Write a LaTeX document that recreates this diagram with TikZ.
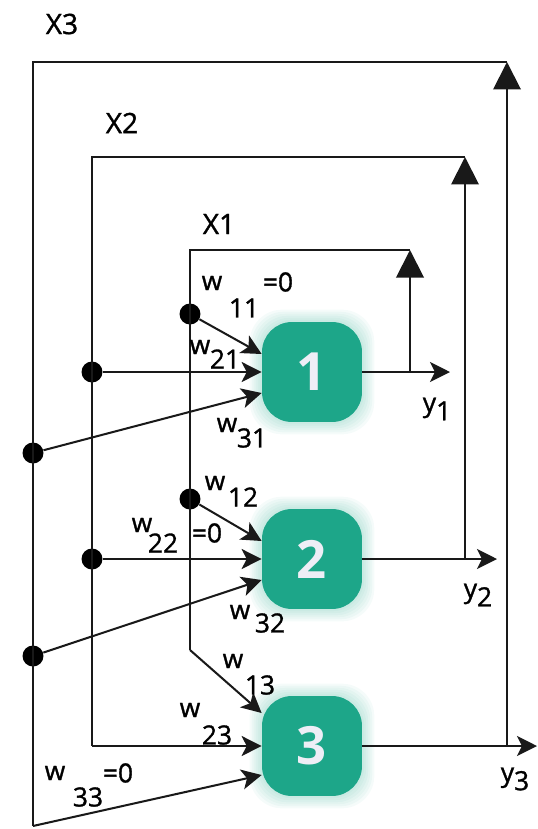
\documentclass[tikz,border=0pt]{standalone}
\usepackage{fontspec}
\setmainfont{Open Sans}
\newfontfamily\labelfont{Open Sans}[FakeBold=1.2]
\usetikzlibrary{positioning,arrows.meta,calc,backgrounds}
\definecolor{Unit}{RGB}{29,166,137}
\definecolor{UnitText}{RGB}{238,238,246}
\definecolor{Wire}{RGB}{25,25,25}

\begin{document}
\begin{tikzpicture}[x=0.02cm,y=-0.02cm,
    unit/.style={rectangle,rounded corners=0.6cm,fill=Unit,text=UnitText,minimum width=2cm,minimum height=2cm,font=\fontsize{30}{34}\selectfont\bfseries},
    tap/.style={circle,fill=black,inner sep=0pt,minimum size=0.42cm},
    lbl/.style={inner sep=0pt,font=\labelfont\fontsize{15}{18}\selectfont},
    xlbl/.style={inner sep=0pt,font=\labelfont\fontsize{16}{19}\selectfont},
    wire/.style={draw=Wire,line width=1.15pt},
    arrow/.style={wire,-{Stealth[length=0.4cm,width=0.4cm,inset=0.1cm]}},
    back/.style={wire,-{Triangle[length=0.55cm,width=0.55cm]}}
]
\useasboundingbox (0,0) rectangle (538,829);

% Neurons
\node[unit] (unit1) at (312,372) {1};
\node[unit] (unit2) at (312,559) {2};
\node[unit] (unit3) at (312,746) {3};

% soft halo round the neurons
\begin{pgfonlayer}{background}
\foreach \u in {unit1,unit2,unit3}
  \foreach \g in {2,4,...,12}
    \fill[Unit,opacity=0.045,rounded corners=0.65cm] ($(\u.south west)+(-\g,\g)$) rectangle ($(\u.north east)+(\g,-\g)$);
\end{pgfonlayer}

% Taps on the fed-back lines
\node[tap] (tap11) at (190,314) {};
\node[tap] (tap12) at (190,499) {};
\node[tap] (tap21) at (92,372) {};
\node[tap] (tap22) at (92,559) {};
\node[tap] (tap31) at (33,453) {};
\node[tap] (tap32) at (33,656) {};

% Corners of the feedback loops
\coordinate (out1) at (450,372);
\coordinate (out2) at (497,559);
\coordinate (out3) at (537,746);
\coordinate (fb1) at (410,372);
\coordinate (fb2) at (465,559);
\coordinate (fb3) at (507,746);
\coordinate (top1) at (410,250);
\coordinate (top2) at (465,157);
\coordinate (top3) at (507,62);
\coordinate (left1) at (190,250);
\coordinate (left2) at (92,157);
\coordinate (left3) at (33,62);
\coordinate (bend1) at (190,650);
\coordinate (bend2) at (tap22 |- unit3.west);
\coordinate (bend3) at (33,826);

% Outputs
\draw[arrow] (unit1) -- (out1);
\draw[arrow] (unit2) -- (out2);
\draw[arrow] (unit3) -- (out3);

% Feedback loops
\draw[back] (fb1) -- (top1);
\draw[back] (fb2) -- (top2);
\draw[back] (fb3) -- (top3);
\draw[wire] (top1) -- (left1) -- (bend1);
\draw[wire] (top2) -- (left2) -- (bend2);
\draw[wire] (top3) -- (left3) -- (bend3);

% Weighted inputs
\draw[arrow] (tap11) -- ($(unit1.west)+(0,-18)$);
\draw[arrow] (tap21) -- (unit1.west);
\draw[arrow] (tap31) -- ($(unit1.west)+(0,21)$);
\draw[arrow] (tap12) -- ($(unit2.west)+(0,-18)$);
\draw[arrow] (tap22) -- (unit2.west);
\draw[arrow] (tap32) -- ($(unit2.west)+(0,21)$);
\draw[arrow] (bend1) -- ($(unit3.west)+(0,-33)$);
\draw[arrow] (bend2) -- (unit3.west);
\draw[arrow] (bend3) -- ($(unit3.west)+(0,29)$);

% Line names
\node[xlbl] (lblX3) at (62,24) {X3};
\node[xlbl] (lblX2) at (122,123) {X2};
\node[xlbl] (lblX1) at (219,224) {X1};
\node[lbl] (lbly1) at (437,409) {y\raisebox{-0.6ex}{1}};
\node[lbl] (lbly2) at (478,595) {y\raisebox{-0.6ex}{2}};
\node[lbl] (lbly3) at (515,779) {y\raisebox{-0.6ex}{3}};

% Weights
\foreach \ij/\wx/\wy/\sx/\sy in {11/212/283/244/308, 21/200/347/225/359, 31/227/425/252/438,
    12/215/483/243/497, 22/142/525/163/543, 32/240/612/270/623,
    13/233/661/260/685, 23/190/710/217/735, 33/55/773/88/797} {
  \node[lbl] (w\ij) at (\wx,\wy) {w};
  \node[lbl] (w\ij-sub) at (\sx,\sy) {\ij};
}
\node[lbl] (zero11) at (278,282) {=0};
\node[lbl] (zero22) at (207,533) {=0};
\node[lbl] (zero33) at (118,773) {=0};

\end{tikzpicture}
\end{document}
